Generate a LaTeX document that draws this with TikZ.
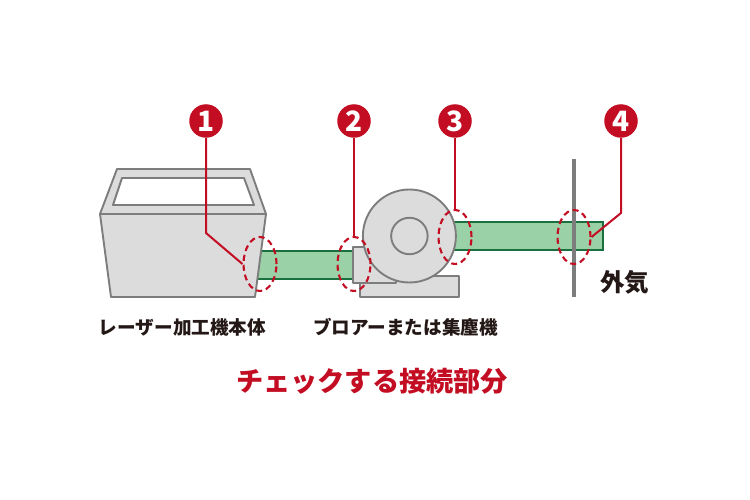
\documentclass[tikz,border=0pt]{standalone}
\usepackage{fontspec}
\newfontfamily\jpfont{Noto Sans CJK JP}
\usetikzlibrary{shapes.geometric}
\definecolor{markred}{HTML}{C30D23}
\definecolor{pipegreen}{HTML}{9BD1A7}
\definecolor{pipeedge}{HTML}{1A6F3E}
\definecolor{bodygray}{HTML}{DCDCDC}
\definecolor{edgegray}{HTML}{7D7D7D}
\definecolor{inkdark}{HTML}{231815}
\tikzset{
  machine/.style={draw=edgegray, fill=bodygray, line width=1.9pt, line join=round},
  pipe/.style={draw=pipeedge, fill=pipegreen, line width=1.7pt},
  badge/.style={circle, fill=markred, text=white, minimum size=33.5pt, inner sep=0pt,
    font=\jpfont\bfseries\fontsize{28}{28}\selectfont},
  ring/.style={ellipse, draw=markred, dashed, dash pattern=on 6pt off 4pt, line width=2.1pt,
    minimum width=33pt, minimum height=54pt, inner sep=0pt},
  leader/.style={draw=markred, line width=2pt, line join=round},
  caption/.style={text=inkdark, inner sep=0pt, font=\jpfont\bfseries\fontsize{18.6}{18.6}\selectfont}
}
\begin{document}
\begin{tikzpicture}[x=1pt, y=-1pt]
\useasboundingbox (0,0) rectangle (750,500);

% ducts go under the machines
\draw[pipe] (250,251) rectangle (355,279);
\draw[pipe] (450,222) rectangle (603,250);

% laser unit
\draw[machine] (100,214) -- (117,169) -- (250,169) -- (266,214) -- cycle;
\draw[machine, fill=white] (113,205) -- (122,178) -- (244,178) -- (254,205) -- cycle;
\draw[machine] (100,214) -- (266,214) -- (255,297) -- (111,297) -- cycle;

% blower
\draw[machine] (360,276) rectangle (459,297);
\draw[machine] (353,247) rectangle (396,283);
\node[machine, circle, minimum size=93pt, inner sep=0pt] (fan) at (409.4,236) {};
\node[machine, circle, minimum size=36.5pt, inner sep=0pt] (hub) at (fan) {};

% outer wall
\draw[edgegray, line width=3.6pt] (574,159) -- (574,297);

\foreach \nm/\cx/\cy/\bx/\num in {one/260/264/206/1, two/354/264/354/2, three/455/237/455/3, four/574/237/621/4} {%
  \node[ring] (ring\nm) at (\cx,\cy) {};
  \node[badge] (badge\nm) at (\bx,121) {\num};
}

\coordinate (bendone) at (206,233);
\coordinate (bendfour) at (621,213);
\draw[leader] (badgeone) -- (bendone) -- (ringone.west);
\draw[leader] (badgetwo) -- (ringtwo.north);
\draw[leader] (badgethree) -- (ringthree.north);
\draw[leader] (badgefour) -- (bendfour) -- (ringfour.east);

% labels
\node[caption] (lblunit) at (182.5,327) {レーザー加工機本体};
\node[caption] (lblfan) at (405.5,327) {ブロアーまたは集塵機};
\node[caption, font=\jpfont\bfseries\fontsize{24.5}{24.5}\selectfont] (lblair) at (624.5,282) {外気};
\node[caption, text=markred, font=\jpfont\bfseries\fontsize{27.2}{27.2}\selectfont] (lblcheck) at (372,381) {チェックする接続部分};
\end{tikzpicture}
\end{document}
